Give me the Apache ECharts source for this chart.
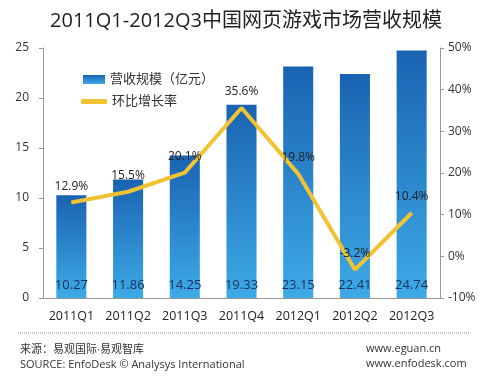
<!DOCTYPE html>
<html><head><meta charset="utf-8">
<script src="https://cdn.jsdelivr.net/npm/echarts@6/dist/echarts.min.js"></script>
<style>html,body{margin:0;padding:0;background:#fff}#c{width:492px;height:378px}</style>
</head><body><div id="c"></div>
<script>
const categories = ['2011Q1','2011Q2','2011Q3','2011Q4','2012Q1','2012Q2','2012Q3'];
const revenue = [10.27, 11.86, 14.25, 19.33, 23.15, 22.41, 24.74];
const growth = [12.9, 15.5, 20.1, 35.6, 19.8, -3.2, 10.4];
const leftTicks = [0, 5, 10, 15, 20, 25];
const rightTicks = [-10, 0, 10, 20, 30, 40, 50];
const title = '2011Q1-2012Q3中国网页游戏市场营收规模';
const barName = '营收规模（亿元）';
const lineName = '环比增长率';

const FONT = '"Open Sans","Noto Sans CJK SC",sans-serif';
const chart = echarts.init(document.getElementById('c'), null, {renderer:'canvas'});
chart.setOption({
  backgroundColor:'#fff',
  animation:false,
  textStyle:{fontFamily:FONT},
  title:{text:title, left:'center', top:6, textStyle:{fontSize:20, fontWeight:'normal', color:'#222', fontFamily:FONT}},
  legend:[
    {left:78, top:68, itemWidth:22, itemHeight:9,
     textStyle:{fontSize:13, color:'#333', fontFamily:FONT},
     data:[{name:barName, icon:'rect'}]},
    {left:76, top:90, itemWidth:26, itemHeight:5,
     textStyle:{fontSize:13, color:'#333', fontFamily:FONT},
     data:[{name:lineName, icon:'roundRect'}]}
  ],
  grid:{left:43, right:52, top:48, bottom:80},
  xAxis:{
    type:'category', data:categories,
    axisLine:{lineStyle:{color:'#999'}},
    axisTick:{show:false},
    axisLabel:{fontSize:12.5, color:'#222', margin:12, interval:0}
  },
  yAxis:[
    {type:'value', min:0, max:25, interval:5,
     axisLine:{show:true, lineStyle:{color:'#999'}},
     axisTick:{show:true, length:4, lineStyle:{color:'#999'}},
     splitLine:{show:false},
     axisLabel:{fontSize:12, color:'#333', margin:14}},
    {type:'value', min:-10, max:50, interval:10,
     axisLine:{show:true, lineStyle:{color:'#999'}},
     axisTick:{show:true, length:4, lineStyle:{color:'#999'}},
     splitLine:{show:false},
     axisLabel:{fontSize:12, color:'#333', margin:8, formatter:'{value}%'}}
  ],
  series:[
    {name:barName, type:'bar', data:revenue, barWidth:'53%', yAxisIndex:0,
     itemStyle:{color:new echarts.graphic.LinearGradient(0,0,0,1,[{offset:0,color:'#1a63b2'},{offset:1,color:'#3daae6'}])},
     label:{show:true, position:'insideBottom', distance:6, fontSize:13, color:'#15305a', fontFamily:FONT}},
    {name:lineName, type:'line', data:growth, yAxisIndex:1, symbol:'circle', symbolSize:1, showSymbol:true,
     lineStyle:{color:'#f1c232', width:4},
     itemStyle:{color:'#f1c232'},
     label:{show:true, position:'top', distance:10, fontSize:12, color:'#222', formatter:p=>p.value+'%', fontFamily:FONT},
     z:5}
  ],
  graphic:[
    {type:'line', shape:{x1:18, y1:333, x2:470, y2:333}, style:{stroke:'#888', lineWidth:1, lineDash:[1,1]}},
    {type:'text', left:20, top:344, style:{text:'来源：易观国际·易观智库', fontSize:11, fill:'#333', fontFamily:FONT}},
    {type:'text', left:20, top:359, style:{text:'SOURCE: EnfoDesk © Analysys International', fontSize:11, fill:'#333', fontFamily:FONT}},
    {type:'text', left:366, top:343, style:{text:'www.eguan.cn', fontSize:11, fill:'#333', fontFamily:FONT}},
    {type:'text', left:366, top:358, style:{text:'www.enfodesk.com', fontSize:11, fill:'#333', fontFamily:FONT}}
  ]
});
</script></body></html>
